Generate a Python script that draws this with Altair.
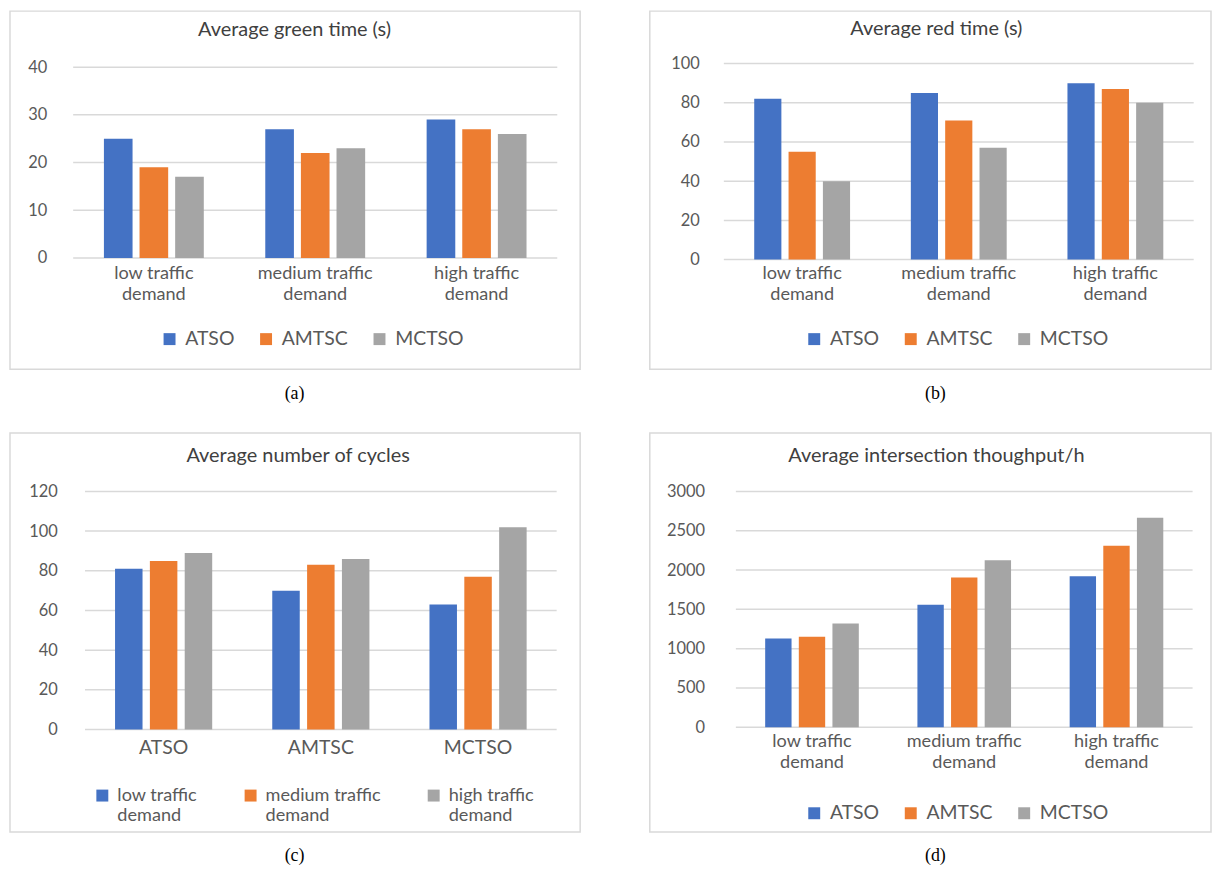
import altair as alt
import pandas as pd

# ---------------- data ----------------
demand = ["low traffic demand", "medium traffic demand", "high traffic demand"]
methods = ["ATSO", "AMTSC", "MCTSO"]
colors = ["#4472c4", "#ed7d31", "#a5a5a5"]

green_atso = [25, 27, 29]
green_amtsc = [19, 22, 27]
green_mctso = [17, 23, 26]
green_ticks = [0, 10, 20, 30, 40]

red_atso = [82, 85, 90]
red_amtsc = [55, 71, 87]
red_mctso = [40, 57, 80]
red_ticks = [0, 20, 40, 60, 80, 100]

cycles_low = [81, 70, 63]       # per method ATSO, AMTSC, MCTSO
cycles_medium = [85, 83, 77]
cycles_high = [89, 86, 102]
cycles_ticks = [0, 20, 40, 60, 80, 100, 120]

thr_atso = [1130, 1560, 1920]
thr_amtsc = [1150, 1905, 2310]
thr_mctso = [1320, 2125, 2665]
thr_ticks = [0, 500, 1000, 1500, 2000, 2500, 3000]

titles = ["Average green time (s)", "Average red time (s)",
          "Average number of cycles", "Average intersection thoughput/h"]
captions = ["(a)", "(b)", "(c)", "(d)"]

FONT = "Lato"
SPLIT = "[replace(datum.label, ' traffic demand', ' traffic'), 'demand']"


def panel(cats, series, values, ticks, title, caption, L, split_x, split_leg):
    rows = []
    for s, vals in zip(series, values):
        for c, v in zip(cats, vals):
            rows.append({"cat": c, "series": s, "value": v})
    df = pd.DataFrame(rows)
    yscale = alt.Scale(domain=[ticks[0], ticks[-1]], range=[L["y0"], L["y1"]], nice=False, zero=True)
    yaxis = alt.Axis(values=ticks, offset=-L["ylab"], labelPadding=0, domain=False,
                     ticks=False, grid=False, format="d", labelFontSize=16.5,
                     labelFont=FONT, labelColor="#595959", title=None)

    grid = alt.Chart(pd.DataFrame({"value": ticks})).mark_rule(
        color="#d9d9d9", strokeWidth=1.5
    ).encode(
        y=alt.Y("value:Q", scale=yscale, axis=yaxis, title=None),
        x=alt.value(L["x0"]), x2=alt.value(L["x1"]),
    )

    bars = alt.Chart(df).mark_bar().encode(
        x=alt.X("cat:N", sort=cats, title=None,
                scale=alt.Scale(range=[L["x0"], L["x1"]], paddingInner=L["pi"], paddingOuter=L["pi"] / 2),
                axis=alt.Axis(orient="bottom", offset=-(L["H"] - L["y0"]), domain=False, ticks=False,
                              labelAngle=0, labelPadding=L["xpad"], labelFontSize=L["xfs"],
                              labelLineHeight=21, labelFont=FONT, labelColor="#595959",
                              labelExpr=SPLIT if split_x else "datum.label")),
        xOffset=alt.XOffset("series:N", sort=series,
                            scale=alt.Scale(paddingInner=L["opi"], paddingOuter=0)),
        y=alt.Y("value:Q", scale=yscale, title=None, axis=yaxis),
        color=alt.Color("series:N", sort=series, title=None,
                        scale=alt.Scale(domain=series, range=colors),
                        legend=alt.Legend(orient="none", legendX=L["legX"], legendY=L["legY"],
                                          direction="horizontal", symbolType="square",
                                          symbolSize=144, symbolStrokeWidth=0,
                                          labelFontSize=L["lfs"], labelFont=FONT,
                                          labelColor="#595959", labelOffset=6,
                                          columnPadding=L["colpad"], padding=0,
                                          labelLimit=300,
                                          labelExpr=SPLIT if split_leg else "datum.label")),
    )

    ttl = alt.Chart(pd.DataFrame({"t": [title]})).mark_text(
        font=FONT, fontSize=20, color="#404040", baseline="middle", align="center"
    ).encode(text="t:N", x=alt.value(L["tx"]), y=alt.value(L["ty"]))

    cap = alt.Chart(pd.DataFrame({"t": [caption]})).mark_text(
        font="Liberation Serif", fontSize=18, color="#000000", baseline="middle", align="center"
    ).encode(text="t:N", x=alt.value(L["cx"]), y=alt.value(L["cy"]))

    return alt.layer(grid, bars, ttl, cap).properties(width=L["W"], height=L["H"])


LA = dict(W=573, H=360, x0=63.5, x1=550, pi=0.381, opi=0.196, y0=248, y1=56.3, ylab=37,
          tx=286, ty=18.5, cx=286, cy=385, legX=150.6, legY=319.5, xpad=6.5, xfs=18.2,
          lfs=19.5, colpad=22)
LB = dict(W=564, H=360, x0=74.4, x1=546.6, pi=0.388, opi=0.209, y0=249.7, y1=52.7, ylab=49.7,
          tx=288, ty=18, cx=287, cy=385, legX=155.5, legY=319.5, xpad=4.8, xfs=18.2,
          lfs=19.5, colpad=22)
LC = dict(W=573, H=401, x0=75.4, x1=549.4, pi=0.382, opi=0.211, y0=298, y1=58.7, ylab=47.5,
          tx=289.6, ty=23.5, cx=286, cy=425, legX=83.7, legY=355, xpad=9, xfs=19.5,
          lfs=18.2, colpad=44)
LD = dict(W=564, H=401, x0=86.5, x1=545.5, pi=0.385, opi=0.216, y0=295.7, y1=58.7, ylab=55,
          tx=288, ty=23.5, cx=287, cy=425, legX=155.5, legY=372, xpad=5, xfs=18.2,
          lfs=19.5, colpad=22)

pa = panel(demand, methods, [green_atso, green_amtsc, green_mctso], green_ticks,
           titles[0], captions[0], LA, True, False)
pb = panel(demand, methods, [red_atso, red_amtsc, red_mctso], red_ticks,
           titles[1], captions[1], LB, True, False)
pc = panel(methods, demand, [cycles_low, cycles_medium, cycles_high], cycles_ticks,
           titles[2], captions[2], LC, False, True)
pd_ = panel(demand, methods, [thr_atso, thr_amtsc, thr_mctso], thr_ticks,
            titles[3], captions[3], LD, True, False)

chart = alt.concat(pa, pb, pc, pd_, columns=2, spacing={"row": 64, "column": 70},
                   bounds="flush").resolve_scale(
    x="independent", y="independent", xOffset="independent", color="independent"
).resolve_legend(color="independent").configure_view(
    stroke="#d9d9d9", strokeWidth=1.5
).properties(
    padding={"left": 1, "top": 0, "right": 0, "bottom": 0}, background="white"
)

chart.save("out.html", embed_options={"renderer": "svg", "actions": False})
